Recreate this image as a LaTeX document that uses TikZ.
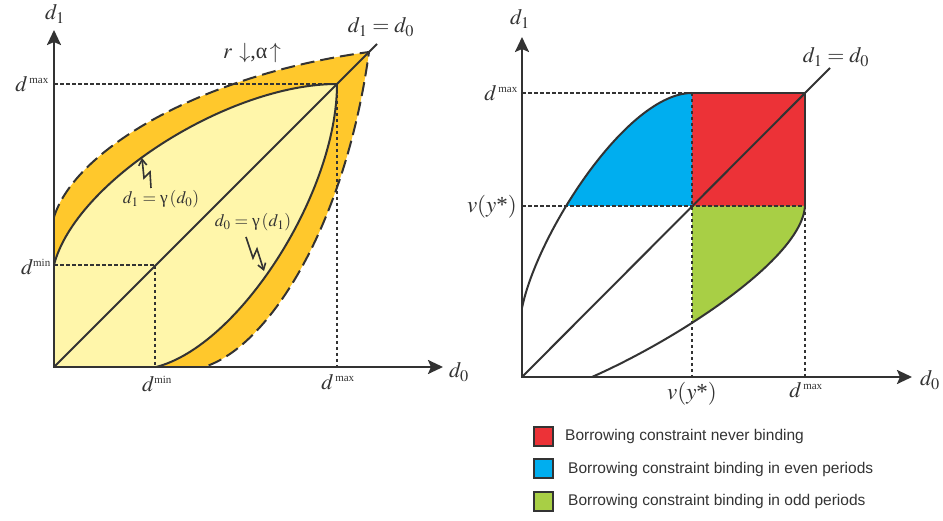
\documentclass[tikz,border=0pt]{standalone}
\usepackage{mathptmx}
\usepackage{fontspec}
\setmainfont{Liberation Serif}
\newfontfamily\legfont{Liberation Sans}
\usetikzlibrary{arrows.meta}
\definecolor{lyel}{HTML}{FFF6AA}
\definecolor{orng}{HTML}{FFC82C}
\definecolor{cred}{HTML}{EC3237}
\definecolor{cblue}{HTML}{00AEEF}
\definecolor{cgreen}{HTML}{A8CF45}
\definecolor{ink}{HTML}{333333}
\newcommand\supm[1]{\mbox{\fontsize{11}{12}\selectfont #1}}
\begin{document}
\begin{tikzpicture}[x=1pt,y=-1pt,
  axis/.style={draw=ink,line width=2.4pt,{Stealth[length=15pt,width=14pt,inset=3pt]}-{Stealth[length=15pt,width=14pt,inset=3pt]}},
  curve/.style={draw=ink,line width=2pt},
  dcurve/.style={draw=ink,line width=2pt,dash pattern=on 14pt off 6pt},
  guide/.style={draw=ink,line width=1.1pt,dash pattern=on 3.5pt off 2.5pt},
  lbl/.style={font=\fontsize{22}{26}\selectfont,text=ink,inner sep=0pt},
  vlbl/.style={font=\fontsize{23}{27}\selectfont,text=ink,inner sep=0pt},
  small/.style={font=\fontsize{17.5}{20}\selectfont,text=ink,inner sep=0pt},
  zig/.style={draw=ink,line width=1.6pt,-{Straight Barb[length=6pt,width=8pt]}},
  legbox/.style={draw=ink,line width=2pt,minimum width=19pt,minimum height=19pt,inner sep=0pt},
  legtext/.style={font=\legfont\fontsize{15.5}{18}\selectfont,text=ink,anchor=west,inner sep=0pt}]
\useasboundingbox (0,0) rectangle (943,521);

% ---------- left panel ----------
\coordinate (LO) at (54,367);
\coordinate (LY) at (54,30);
\coordinate (LX) at (443,367);
\coordinate (Ltip) at (369,52);
\coordinate (Lmax) at (337,84);
\coordinate (Lmin) at (155,265);

\fill[orng] (54,367) -- (54,217) .. controls (75,150) and (200,75) .. (Ltip)
  .. controls (346,221) and (271,346) .. (204,367) -- cycle;
\fill[lyel] (54,367) -- (54,265) .. controls (75,182) and (228,84) .. (Lmax)
  .. controls (337,193) and (239,346) .. (156,367) -- cycle;

\draw[guide] (54,84) -- (Lmax) -- (337,367);
\draw[guide] (54,265) -- (Lmin) -- (155,367);

\draw[curve] (54,265) .. controls (75,182) and (228,84) .. (Lmax)
  .. controls (337,193) and (239,346) .. (156,367);
\draw[dcurve] (54,217) .. controls (75,150) and (200,75) .. (Ltip)
  .. controls (346,221) and (271,346) .. (204,367);
\draw[curve] (LO) -- (377,44);
\draw[axis] (LY) -- (LO) -- (LX);

\draw[zig] (151,188) -- (150,172) -- (144,178) -- (142,158);
\draw[zig] (246,237) -- (253,258) -- (257,249) -- (264,271);

\node[lbl] (ld1) at (55,14) {$d_1$};
\node[lbl] (ld0) at (459,372) {$d_0$};
\node[lbl,anchor=east] (ldmax) at (49,84) {$d^{\,\supm{max}}$};
\node[lbl,anchor=east] (ldmin) at (51,267) {$d^{\supm{min}}$};
\node[lbl] (lbmin) at (157,384) {$d^{\supm{min}}$};
\node[lbl] (lbmax) at (338,382) {$d^{\,\supm{max}}$};
\node[lbl] (ldiag) at (381,27) {$d_1=d_0$};
\node[lbl] (lra) at (252,53) {$r\,\downarrow$,α$\,\uparrow$};
\node[small] (lg1) at (161,199) {$d_1=\mbox{γ}\,(d_0)$};
\node[small] (lg0) at (253,222) {$d_0=\mbox{γ}\,(d_1)$};

% ---------- right panel ----------
\coordinate (RO) at (522,377);
\coordinate (RY) at (522,37);
\coordinate (RX) at (912,377);

\fill[cred] (692,93) rectangle (805,206);
\begin{scope}
  \clip (522,93) rectangle (692,206);
  \fill[cblue] (522,308) .. controls (537,234) and (627,93) .. (692,93) -- (692,308) -- cycle;
\end{scope}
\begin{scope}
  \clip (692,206) rectangle (805,377);
  \fill[cgreen] (592,377) .. controls (680,338) and (802,258) .. (805,206) -- (592,206) -- cycle;
\end{scope}

\draw[guide] (522,93) -- (692,93);
\draw[guide] (522,206) -- (805,206);
\draw[guide] (692,93) -- (692,377);
\draw[guide] (805,206) -- (805,377);

\draw[curve] (692,93) -- (805,93) -- (805,206);
\draw[curve] (522,308) .. controls (537,234) and (627,93) .. (692,93);
\draw[curve] (592,377) .. controls (680,338) and (802,258) .. (805,206);
\draw[curve] (RO) -- (830,68);
\draw[axis] (RY) -- (RO) -- (RX);

\node[lbl] (rd1) at (520,19) {$d_1$};
\node[lbl] (rd0) at (930,380) {$d_0$};
\node[lbl,anchor=east] (rdmax) at (518,93) {$d^{\,\supm{max}}$};
\node[vlbl,anchor=east] (rvy) at (517,207) {$v(y\mbox{*})$};
\node[vlbl] (rbvy) at (692,394) {$v(y\mbox{*})$};
\node[lbl] (rbmax) at (806,390) {$d^{\,\supm{max}}$};
\node[lbl] (rdiag) at (836,57) {$d_1=d_0$};

% ---------- legend ----------
\node[legbox,fill=cred] (k1) at (543,436) {};
\node[legtext] (t1) at (565,436) {Borrowing constraint never binding};
\node[legbox,fill=cblue] (k2) at (543,468) {};
\node[legtext] (t2) at (568,469) {Borrowing constraint binding in even periods};
\node[legbox,fill=cgreen] (k3) at (543,501) {};
\node[legtext] (t3) at (568,501) {Borrowing constraint binding in odd periods};
\end{tikzpicture}
\end{document}
